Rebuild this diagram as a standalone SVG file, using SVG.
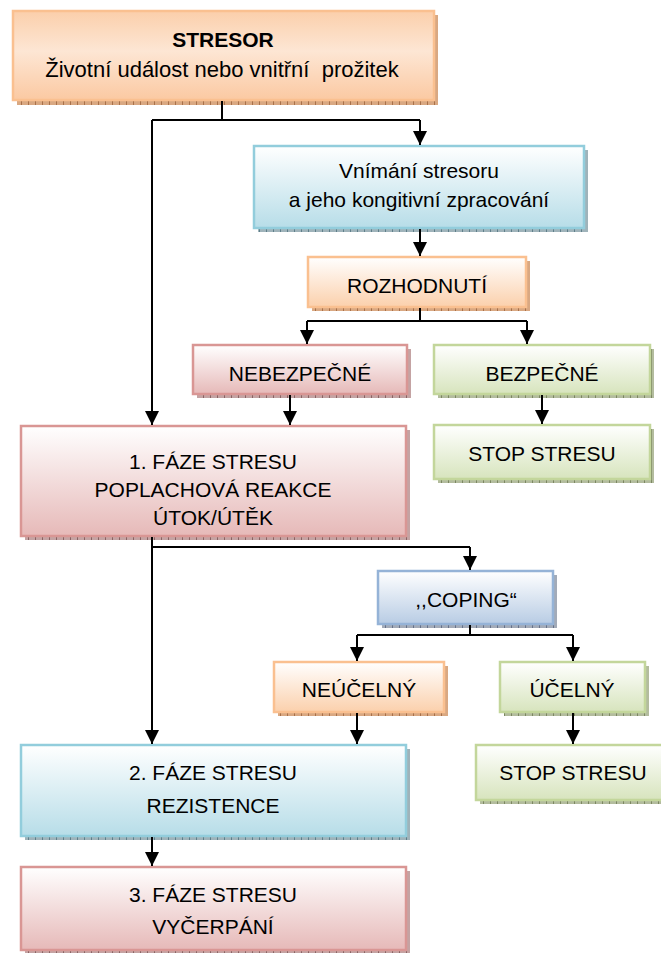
<svg xmlns="http://www.w3.org/2000/svg" width="661" height="953" viewBox="0 0 661 953">
<defs>
<linearGradient id="gO" x1="0" y1="0" x2="0" y2="1"><stop offset="0" stop-color="#ffffff"/><stop offset="1" stop-color="#fbd0ac"/></linearGradient>
<linearGradient id="gS" x1="0" y1="0" x2="0" y2="1"><stop offset="0" stop-color="#fbcfab"/><stop offset="0.45" stop-color="#fde6d4"/><stop offset="1" stop-color="#fbc9a2"/></linearGradient>
<linearGradient id="gB" x1="0" y1="0" x2="0" y2="1"><stop offset="0" stop-color="#ffffff"/><stop offset="1" stop-color="#b7dde8"/></linearGradient>
<linearGradient id="gR" x1="0" y1="0" x2="0" y2="1"><stop offset="0" stop-color="#ffffff"/><stop offset="1" stop-color="#e6b9b8"/></linearGradient>
<linearGradient id="gG" x1="0" y1="0" x2="0" y2="1"><stop offset="0" stop-color="#ffffff"/><stop offset="1" stop-color="#d7e4bd"/></linearGradient>
<linearGradient id="gC" x1="0" y1="0" x2="0" y2="1"><stop offset="0" stop-color="#ffffff"/><stop offset="1" stop-color="#b8cce4"/></linearGradient>
<pattern id="hO" width="7" height="5" patternUnits="userSpaceOnUse"><rect width="7" height="5" fill="#d9a882"/><path d="M0.5,0V5" stroke="#a8714a" stroke-width="1"/></pattern>
<pattern id="hB" width="7" height="5" patternUnits="userSpaceOnUse"><rect width="7" height="5" fill="#9fb3ba"/><path d="M0.5,0V5" stroke="#5f7f8a" stroke-width="1"/></pattern>
<pattern id="hR" width="7" height="5" patternUnits="userSpaceOnUse"><rect width="7" height="5" fill="#c4a3a3"/><path d="M0.5,0V5" stroke="#8a6464" stroke-width="1"/></pattern>
<pattern id="hG" width="7" height="5" patternUnits="userSpaceOnUse"><rect width="7" height="5" fill="#b3bc9e"/><path d="M0.5,0V5" stroke="#7c8762" stroke-width="1"/></pattern>
<pattern id="hC" width="7" height="5" patternUnits="userSpaceOnUse"><rect width="7" height="5" fill="#a3abb8"/><path d="M0.5,0V5" stroke="#66728a" stroke-width="1"/></pattern>
<marker id="arr" markerUnits="userSpaceOnUse" markerWidth="14" markerHeight="14" refX="14" refY="7" orient="auto" viewBox="0 0 14 14"><path d="M0,0L14,7L0,14z" fill="#000"/></marker>
</defs>
<style>
text{font-family:"Liberation Sans",Arial,sans-serif;font-size:21px;fill:#000;text-anchor:middle;white-space:pre}
.b{font-weight:bold}
.o{fill:url(#gO);stroke:#fac090;stroke-width:2.5}
.s{fill:url(#gS);stroke:#fac090;stroke-width:2.5}
.bl{fill:url(#gB);stroke:#92cddc;stroke-width:2.5}
.r{fill:url(#gR);stroke:#d99694;stroke-width:2.5}
.g{fill:url(#gG);stroke:#c3d69b;stroke-width:2.5}
.c{fill:url(#gC);stroke:#95b3d7;stroke-width:2.5}
.con path{fill:none;stroke:#000;stroke-width:2}
</style>
<rect width="661" height="953" fill="#fff"/>
<g id="stresor"><rect x="17" y="15" width="421" height="90" fill="url(#hO)"/><rect class="s" x="13" y="11" width="421" height="89"/><text class="b" x="223" y="47">STRESOR</text><text x="222" y="77" style="font-size:22px" xml:space="preserve">Životní událost nebo vnitřní  prožitek</text></g>
<g id="vnimani"><rect x="258" y="150" width="330" height="82" fill="url(#hB)"/><rect class="bl" x="254" y="146" width="330" height="82"/><text x="419" y="178">Vnímání stresoru</text><text x="419" y="207">a jeho kongitivní zpracování</text></g>
<g id="rozhodnuti"><rect x="312" y="261" width="218" height="50" fill="url(#hO)"/><rect class="o" x="308" y="257" width="218" height="50"/><text x="417" y="293">ROZHODNUTÍ</text></g>
<g id="nebezpecne"><rect x="197" y="349" width="214" height="49" fill="url(#hR)"/><rect class="r" x="193" y="345" width="214" height="49"/><text x="300" y="381">NEBEZPEČNÉ</text></g>
<g id="bezpecne"><rect x="438" y="349" width="216" height="49" fill="url(#hG)"/><rect class="g" x="434" y="345" width="216" height="49"/><text x="542" y="381">BEZPEČNÉ</text></g>
<g id="stop1"><rect x="438" y="429" width="216" height="54" fill="url(#hG)"/><rect class="g" x="434" y="425" width="216" height="54"/><text x="542" y="461">STOP STRESU</text></g>
<g id="faze1"><rect x="25" y="430" width="385" height="110" fill="url(#hR)"/><rect class="r" x="21" y="426" width="385" height="110"/><text x="213" y="469">1. FÁZE STRESU</text><text x="213" y="497">POPLACHOVÁ REAKCE</text><text x="213" y="525">ÚTOK/ÚTĚK</text></g>
<g id="coping"><rect x="382" y="575" width="175" height="53" fill="url(#hC)"/><rect class="c" x="378" y="571" width="175" height="53"/><text x="466" y="607">,,COPING“</text></g>
<g id="neucelny"><rect x="278" y="666" width="170" height="50" fill="url(#hO)"/><rect class="o" x="274" y="662" width="170" height="50"/><text x="359" y="697">NEÚČELNÝ</text></g>
<g id="ucelny"><rect x="504" y="666" width="145" height="50" fill="url(#hG)"/><rect class="g" x="500" y="662" width="145" height="50"/><text x="572" y="697">ÚČELNÝ</text></g>
<g id="stop2"><rect x="480" y="749" width="194" height="55" fill="url(#hG)"/><rect class="g" x="476" y="745" width="194" height="55"/><text x="573" y="780">STOP STRESU</text></g>
<g id="faze2"><rect x="25" y="749" width="385" height="91" fill="url(#hB)"/><rect class="bl" x="21" y="745" width="385" height="91"/><text x="213" y="780">2. FÁZE STRESU</text><text x="213" y="813">REZISTENCE</text></g>
<g id="faze3"><rect x="25" y="871" width="385" height="83" fill="url(#hR)"/><rect class="r" x="21" y="867" width="385" height="83"/><text x="213" y="902">3. FÁZE STRESU</text><text x="213" y="934">VYČERPÁNÍ</text></g>
<g id="connectors" class="con">
<path d="M222,101V120M152,120H420"/>
<path d="M152,120V425" marker-end="url(#arr)"/>
<path d="M420,120V145" marker-end="url(#arr)"/>
<path d="M420,229V256" marker-end="url(#arr)"/>
<path d="M420,308V321M307,321H527"/>
<path d="M307,321V344" marker-end="url(#arr)"/>
<path d="M527,321V344" marker-end="url(#arr)"/>
<path d="M290,395V425" marker-end="url(#arr)"/>
<path d="M542,395V424" marker-end="url(#arr)"/>
<path d="M152,537V744" marker-end="url(#arr)"/>
<path d="M152,547H470"/>
<path d="M470,547V570" marker-end="url(#arr)"/>
<path d="M470,625V635M357,635H573"/>
<path d="M357,635V661" marker-end="url(#arr)"/>
<path d="M573,635V661" marker-end="url(#arr)"/>
<path d="M357,713V744" marker-end="url(#arr)"/>
<path d="M573,713V744" marker-end="url(#arr)"/>
<path d="M152,837V866" marker-end="url(#arr)"/>
</g>
</svg>
